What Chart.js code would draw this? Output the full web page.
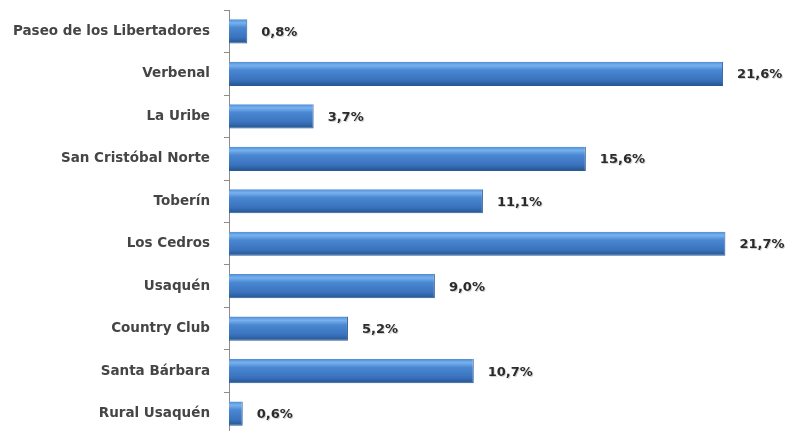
<!DOCTYPE html>
<html>
<head>
<meta charset="utf-8">
<script src="https://cdn.jsdelivr.net/npm/chart.js@4.4.0/dist/chart.umd.min.js"></script>
<style>
  html, body { margin: 0; padding: 0; background: #fff; overflow: hidden; }
  #wrap { position: relative; width: 791px; height: 469px; margin-top: -12px; }
</style>
</head>
<body>
<div id="wrap"><canvas id="myChart"></canvas></div>
<script>
let barrios = ['Paseo de los Libertadores', 'Verbenal', 'La Uribe', 'San Cristóbal Norte', 'Toberín',
  'Los Cedros', 'Usaquén', 'Country Club', 'Santa Bárbara', 'Rural Usaquén'];
let porcentajes = [0.8, 21.6, 3.7, 15.6, 11.1, 21.7, 9.0, 5.2, 10.7, 0.6];

// bar gradient, light top to dark bottom
function barFill(context) {
  let chart = context.chart;
  let yScale = chart.scales.y;
  if (!chart.chartArea || !yScale || context.dataIndex === undefined) return '#3c78c3';
  let cy = yScale.getPixelForValue(context.dataIndex);
  let h = (yScale.height / barrios.length) * 0.57;
  if (!Number.isFinite(cy) || !Number.isFinite(h)) return '#3c78c3';
  let g = chart.ctx.createLinearGradient(0, cy - h / 2, 0, cy + h / 2);
  g.addColorStop(0, '#4f8bd6');
  g.addColorStop(0.15, '#78b2ee');
  g.addColorStop(0.35, '#4a87d2');
  g.addColorStop(0.75, '#3a72bd');
  g.addColorStop(1, '#23548f');
  return g;
}

// value labels right of each bar
let valueLabels = {
  id: 'valueLabels',
  afterDatasetsDraw(chart) {
    let ctx = chart.ctx;
    let meta = chart.getDatasetMeta(0);
    ctx.save();
    ctx.font = 'bold 13px "DejaVu Sans", sans-serif';
    ctx.textBaseline = 'middle';
    ctx.textAlign = 'left';
    meta.data.forEach((bar, i) => {
      let txt = porcentajes[i].toFixed(1).replace('.', ',') + '%';
      ctx.fillStyle = 'rgba(0,0,0,0.18)';
      ctx.fillText(txt, bar.x + 15, bar.y + 2);
      ctx.fillStyle = '#2b2b2b';
      ctx.fillText(txt, bar.x + 14, bar.y + 1);
    });
    ctx.restore();
  }
};

let ctx = document.getElementById('myChart').getContext('2d');
let myChart = new Chart(ctx, {
  type: 'bar',
  data: {
    labels: barrios,
    datasets: [{
      data: porcentajes,
      backgroundColor: barFill,
      borderColor: '#2a5a96',
      borderWidth: { top: 0, left: 0, right: 1, bottom: 1 },
      barPercentage: 0.57,
      categoryPercentage: 1
    }]
  },
  options: {
    indexAxis: 'y',
    responsive: true,
    maintainAspectRatio: false,
    animation: false,
    layout: { padding: { top: 7, right: 13, bottom: 0, left: 0 } },
    plugins: {
      legend: { display: false },
      tooltip: { enabled: false }
    },
    scales: {
      x: {
        min: 0,
        max: 24,
        display: false
      },
      y: {
        afterFit: function (scale) { scale.width = 229; },
        border: { display: true, color: '#8c8c8c', width: 1 },
        grid: {
          offset: true,
          drawOnChartArea: false,
          drawTicks: true,
          tickLength: 5,
          color: '#8c8c8c'
        },
        ticks: {
          color: '#454545',
          padding: 14,
          font: { size: 13.5, weight: 'bold', family: "'DejaVu Sans', sans-serif" }
        }
      }
    }
  },
  plugins: [valueLabels]
});
</script>
</body>
</html>
